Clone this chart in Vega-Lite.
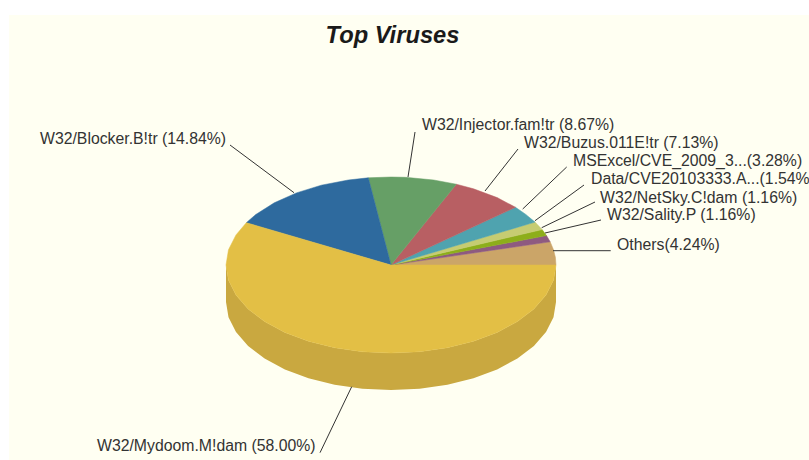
{"$schema":"https://vega.github.io/schema/vega-lite/v6.json","width":809,"height":460,"padding":0,"autosize":{"type":"none"},"background":"#ffffff","config":{"view":{"stroke":null}},
"title":{"text":"Top Viruses","font":"Liberation Sans","fontSize":23.7,"fontWeight":"bold","fontStyle":"italic","color":"#1a1a1a","anchor":"middle","offset":-48,"dx":-12},
"datasets":{
"panel":[{"x":9,"x2":809,"y":15,"y2":460}],
"wall":[{"x":226,"y":265,"y2":302},{"x":228.5,"y":280.3,"y2":317.3},{"x":236,"y":295.1,"y2":332.1},{"x":248.1,"y":309,"y2":346},{"x":264.6,"y":321.6,"y2":358.6},{"x":284.9,"y":332.4,"y2":369.4},{"x":308.5,"y":341.2,"y2":378.2},{"x":334.6,"y":347.7,"y2":384.7},{"x":362.4,"y":351.7,"y2":388.7},{"x":391,"y":353,"y2":390},{"x":419.6,"y":351.7,"y2":388.7},{"x":447.4,"y":347.7,"y2":384.7},{"x":473.5,"y":341.2,"y2":378.2},{"x":497.1,"y":332.4,"y2":369.4},{"x":517.4,"y":321.6,"y2":358.6},{"x":533.9,"y":309,"y2":346},{"x":546,"y":295.1,"y2":332.1},{"x":553.5,"y":280.3,"y2":317.3},{"x":556,"y":265,"y2":302}],
"slices":[
{"slice":"Others","i":0,"x":391,"y":265},{"slice":"Others","i":1,"x":556,"y":265},{"slice":"Others","i":2,"x":555.4,"y":257.3},{"slice":"Others","i":3,"x":553.5,"y":249.7},{"slice":"Others","i":4,"x":550.2,"y":241.8},{"slice":"Others","i":5,"x":391,"y":265},
{"slice":"Sality","i":0,"x":391,"y":265},{"slice":"Sality","i":1,"x":550.2,"y":241.8},{"slice":"Sality","i":2,"x":546.5,"y":235.6},{"slice":"Sality","i":3,"x":391,"y":265},
{"slice":"NetSky","i":0,"x":391,"y":265},{"slice":"NetSky","i":1,"x":546.5,"y":235.6},{"slice":"NetSky","i":2,"x":542.1,"y":229.6},{"slice":"NetSky","i":3,"x":391,"y":265},
{"slice":"Data","i":0,"x":391,"y":265},{"slice":"Data","i":1,"x":542.1,"y":229.6},{"slice":"Data","i":2,"x":535,"y":222.1},{"slice":"Data","i":3,"x":391,"y":265},
{"slice":"MSExcel","i":0,"x":391,"y":265},{"slice":"MSExcel","i":1,"x":535,"y":222.1},{"slice":"MSExcel","i":2,"x":525.5,"y":214.2},{"slice":"MSExcel","i":3,"x":515.5,"y":207.3},{"slice":"MSExcel","i":4,"x":391,"y":265},
{"slice":"Buzus","i":0,"x":391,"y":265},{"slice":"Buzus","i":1,"x":515.5,"y":207.3},{"slice":"Buzus","i":2,"x":497.1,"y":197.6},{"slice":"Buzus","i":3,"x":473.5,"y":188.8},{"slice":"Buzus","i":4,"x":456.3,"y":184.2},{"slice":"Buzus","i":5,"x":391,"y":265},
{"slice":"Injector","i":0,"x":391,"y":265},{"slice":"Injector","i":1,"x":456.3,"y":184.2},{"slice":"Injector","i":2,"x":433.7,"y":180},{"slice":"Injector","i":3,"x":405.4,"y":177.3},{"slice":"Injector","i":4,"x":391,"y":177},{"slice":"Injector","i":5,"x":368.3,"y":177.8},{"slice":"Injector","i":6,"x":391,"y":265},
{"slice":"Blocker","i":0,"x":391,"y":265},{"slice":"Blocker","i":1,"x":368.3,"y":177.8},{"slice":"Blocker","i":2,"x":348.3,"y":180},{"slice":"Blocker","i":3,"x":321.3,"y":185.2},{"slice":"Blocker","i":4,"x":296.4,"y":192.9},{"slice":"Blocker","i":5,"x":274.3,"y":202.8},{"slice":"Blocker","i":6,"x":255.8,"y":214.5},{"slice":"Blocker","i":7,"x":246.3,"y":222.7},{"slice":"Blocker","i":8,"x":391,"y":265},
{"slice":"Mydoom","i":0,"x":391,"y":265},{"slice":"Mydoom","i":1,"x":246.3,"y":222.7},{"slice":"Mydoom","i":2,"x":236,"y":234.9},{"slice":"Mydoom","i":3,"x":228.5,"y":249.7},{"slice":"Mydoom","i":4,"x":226,"y":265},{"slice":"Mydoom","i":5,"x":228.5,"y":280.3},{"slice":"Mydoom","i":6,"x":236,"y":295.1},{"slice":"Mydoom","i":7,"x":248.1,"y":309},{"slice":"Mydoom","i":8,"x":264.6,"y":321.6},{"slice":"Mydoom","i":9,"x":284.9,"y":332.4},{"slice":"Mydoom","i":10,"x":308.5,"y":341.2},{"slice":"Mydoom","i":11,"x":334.6,"y":347.7},{"slice":"Mydoom","i":12,"x":362.4,"y":351.7},{"slice":"Mydoom","i":13,"x":391,"y":353},{"slice":"Mydoom","i":14,"x":419.6,"y":351.7},{"slice":"Mydoom","i":15,"x":447.4,"y":347.7},{"slice":"Mydoom","i":16,"x":473.5,"y":341.2},{"slice":"Mydoom","i":17,"x":497.1,"y":332.4},{"slice":"Mydoom","i":18,"x":517.4,"y":321.6},{"slice":"Mydoom","i":19,"x":533.9,"y":309},{"slice":"Mydoom","i":20,"x":546,"y":295.1},{"slice":"Mydoom","i":21,"x":553.5,"y":280.3},{"slice":"Mydoom","i":22,"x":556,"y":265},{"slice":"Mydoom","i":23,"x":391,"y":265}
],
"leaders":[{"x":415,"y":132,"x2":408,"y2":177},{"x":518,"y":149,"x2":485,"y2":191},{"x":566.7,"y":167,"x2":522.7,"y2":209},{"x":584,"y":185,"x2":535,"y2":220.7},{"x":595,"y":202,"x2":541.7,"y2":227.7},{"x":601,"y":220,"x2":545,"y2":233},{"x":553,"y":250.7,"x2":610.7,"y2":250.7},{"x":230,"y":145,"x2":294,"y2":192.7},{"x":351.7,"y":386.7,"x2":320,"y2":452.7}],
"labels":[{"label":"W32/Injector.fam!tr (8.67%)","x":422,"y":125},{"label":"W32/Buzus.011E!tr (7.13%)","x":524,"y":143},{"label":"MSExcel/CVE_2009_3...(3.28%)","x":573,"y":161},{"label":"Data/CVE20103333.A...(1.54%)","x":591,"y":179},{"label":"W32/NetSky.C!dam (1.16%)","x":600,"y":197.5},{"label":"W32/Sality.P (1.16%)","x":607,"y":215},{"label":"Others(4.24%)","x":617,"y":245},{"label":"W32/Blocker.B!tr (14.84%)","x":40,"y":139},{"label":"W32/Mydoom.M!dam (58.00%)","x":97,"y":446}]
},
"layer":[
{"data":{"name":"panel"},"mark":{"type":"rect","fill":"#FFFFF2"},"encoding":{"x":{"field":"x","type":"quantitative","scale":{"domain":[0,809]},"axis":null},"x2":{"field":"x2"},"y":{"field":"y","type":"quantitative","scale":{"domain":[460,0]},"axis":null},"y2":{"field":"y2"}}},
{"data":{"name":"wall"},"mark":{"type":"area","fill":"#C9A840"},"encoding":{"x":{"field":"x","type":"quantitative","scale":{"domain":[0,809]},"axis":null},"y":{"field":"y","type":"quantitative","scale":{"domain":[460,0]},"axis":null},"y2":{"field":"y2"}}},
{"data":{"name":"slices"},"mark":{"type":"line","strokeWidth":0.5,"strokeJoin":"round"},"encoding":{"x":{"field":"x","type":"quantitative","scale":{"domain":[0,809]},"axis":null},"y":{"field":"y","type":"quantitative","scale":{"domain":[460,0]},"axis":null},"order":{"field":"i","type":"quantitative"},
"detail":{"field":"slice"},
"fill":{"field":"slice","type":"nominal","legend":null,"scale":{"domain":["Others","Sality","NetSky","Data","MSExcel","Buzus","Injector","Blocker","Mydoom"],"range":["#CBA568","#8E5A80","#8DAE1A","#C6CC72","#4FA3AF","#B85F63","#669F66","#2E6A9E","#E3BF45"]}},
"stroke":{"field":"slice","type":"nominal","legend":null,"scale":{"domain":["Others","Sality","NetSky","Data","MSExcel","Buzus","Injector","Blocker","Mydoom"],"range":["#CBA568","#8E5A80","#8DAE1A","#C6CC72","#4FA3AF","#B85F63","#669F66","#2E6A9E","#E3BF45"]}}}},
{"data":{"name":"leaders"},"mark":{"type":"rule","color":"#333333","strokeWidth":1},"encoding":{"x":{"field":"x","type":"quantitative","scale":{"domain":[0,809]},"axis":null},"x2":{"field":"x2"},"y":{"field":"y","type":"quantitative","scale":{"domain":[460,0]},"axis":null},"y2":{"field":"y2"}}},
{"data":{"name":"labels"},"mark":{"type":"text","align":"left","baseline":"middle","font":"Liberation Sans","fontSize":15.8,"color":"#333333","clip":false},"encoding":{"x":{"field":"x","type":"quantitative","scale":{"domain":[0,809]},"axis":null},"y":{"field":"y","type":"quantitative","scale":{"domain":[460,0]},"axis":null},"text":{"field":"label"}}}
]}
